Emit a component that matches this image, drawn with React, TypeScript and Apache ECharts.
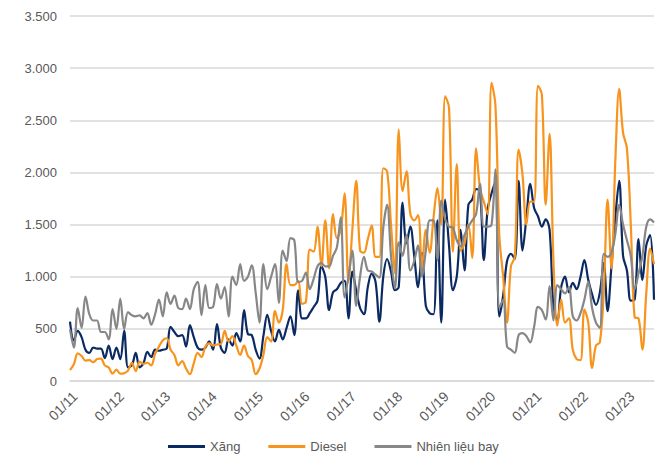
import React, { useEffect, useRef } from "react";
import * as echarts from "echarts";

// Monthly categories from 01/2011 to 08/2023
const years = ["11", "12", "13", "14", "15", "16", "17", "18", "19", "20", "21", "22", "23"];
const monthsInLastYear = 8;

// Xăng (by year)
const xang2011 = [570, 390, 480, 420, 300, 270, 320, 310, 310, 220, 340, 210];
const xang2012 = [320, 210, 480, 130, 150, 270, 130, 170, 280, 230, 300, 290];
const xang2013 = [300, 310, 520, 470, 430, 440, 330, 535, 420, 320, 300, 320];
const xang2014 = [380, 300, 545, 320, 270, 400, 340, 460, 380, 680, 450, 440];
const xang2015 = [300, 215, 430, 635, 480, 380, 490, 400, 510, 620, 440, 870];
const xang2016 = [600, 600, 650, 710, 770, 1100, 1000, 680, 850, 880, 940, 960];
const xang2017 = [600, 1050, 870, 700, 640, 900, 1030, 950, 570, 1000, 1170, 1050];
const xang2018 = [870, 900, 1710, 1320, 1480, 1200, 900, 1230, 720, 650, 640, 1540];
const xang2019 = [560, 1740, 1300, 870, 1000, 1450, 1060, 1690, 1740, 1840, 1820, 1160];
const xang2020 = [1650, 1800, 1910, 620, 820, 1150, 1220, 1170, 1920, 1250, 1560, 1890];
const xang2021 = [1660, 1580, 1480, 1550, 1450, 720, 580, 900, 1000, 850, 940, 880];
const xang2022 = [1000, 1160, 970, 830, 730, 850, 1130, 670, 1100, 1570, 1920, 1200];
const xang2023 = [1060, 770, 780, 1360, 970, 1300, 1400, 780];

// Diesel (by year)
const diesel2011 = [105, 160, 265, 240, 195, 200, 180, 210, 215, 150, 130, 70];
const diesel2012 = [110, 70, 75, 100, 175, 95, 185, 165, 175, 150, 260, 330];
const diesel2013 = [390, 410, 300, 250, 150, 190, 120, 65, 170, 270, 230, 330];
const diesel2014 = [360, 340, 350, 355, 480, 380, 430, 340, 250, 340, 240, 200];
const diesel2015 = [65, 120, 250, 420, 380, 670, 560, 680, 1120, 920, 920, 960];
const diesel2016 = [740, 760, 1260, 1240, 1480, 1100, 1540, 1080, 1600, 1370, 1450, 1800];
const diesel2017 = [950, 1450, 1920, 1250, 1230, 1360, 1490, 1190, 1190, 2040, 2010, 1500];
const diesel2018 = [1030, 2410, 1820, 2010, 1600, 1540, 1590, 1080, 1450, 1230, 1570, 1850];
const diesel2019 = [1500, 2730, 2620, 1240, 2080, 1250, 1320, 1500, 1180, 2230, 1850, 1720];
const diesel2020 = [1600, 2860, 2640, 1400, 1000, 560, 1100, 1190, 2220, 1980, 1500, 1720];
const diesel2021 = [1720, 2830, 2750, 1690, 2370, 1160, 530, 780, 560, 600, 300, 210];
const diesel2022 = [200, 685, 560, 125, 340, 370, 840, 1740, 1080, 2110, 2800, 2380];
const diesel2023 = [2230, 1500, 610, 600, 300, 840, 1270, 1120];

// Nhiên liệu bay (by year)
const jet2011 = [495, 320, 700, 510, 810, 640, 580, 580, 470, 470, 400, 690];
const jet2012 = [500, 790, 500, 660, 630, 620, 630, 600, 650, 540, 640, 780];
const jet2013 = [620, 850, 740, 820, 700, 690, 790, 690, 880, 950, 630, 920];
const jet2014 = [700, 710, 930, 790, 900, 620, 1000, 920, 1120, 960, 1000, 1110];
const jet2015 = [850, 560, 1120, 880, 1000, 1120, 750, 1250, 1150, 1370, 1350, 950];
const jet2016 = [960, 1040, 880, 980, 1100, 1130, 1100, 1100, 1200, 1280, 1570, 800];
const jet2017 = [1000, 1250, 720, 1000, 1190, 1060, 1050, 1020, 990, 1470, 1690, 1200];
const jet2018 = [890, 1330, 1200, 1400, 1060, 1150, 1300, 1000, 1250, 1540, 1540, 1160];
const jet2019 = [1730, 1550, 1480, 1470, 1350, 1290, 1400, 1480, 1540, 1600, 1890, 1480];
const jet2020 = [1480, 1500, 2030, 700, 780, 330, 300, 270, 440, 460, 430, 370];
const jet2021 = [520, 710, 680, 590, 910, 580, 920, 880, 840, 900, 620, 580];
const jet2022 = [650, 780, 950, 700, 560, 510, 1220, 1190, 1230, 1410, 1690, 1500];
const jet2023 = [1350, 1200, 880, 1030, 1200, 1480, 1550, 1520];

const xang = [
  ...xang2011, ...xang2012, ...xang2013, ...xang2014, ...xang2015, ...xang2016, ...xang2017,
  ...xang2018, ...xang2019, ...xang2020, ...xang2021, ...xang2022, ...xang2023,
];
const diesel = [
  ...diesel2011, ...diesel2012, ...diesel2013, ...diesel2014, ...diesel2015, ...diesel2016, ...diesel2017,
  ...diesel2018, ...diesel2019, ...diesel2020, ...diesel2021, ...diesel2022, ...diesel2023,
];
const jet = [
  ...jet2011, ...jet2012, ...jet2013, ...jet2014, ...jet2015, ...jet2016, ...jet2017,
  ...jet2018, ...jet2019, ...jet2020, ...jet2021, ...jet2022, ...jet2023,
];

const seriesNames = ["Xăng", "Diesel", "Nhiên liệu bay"];
const seriesColors = ["#0B2A62", "#F7941D", "#878787"];

function buildCategories(): string[] {
  const out: string[] = [];
  years.forEach((y, yi) => {
    const n = yi === years.length - 1 ? monthsInLastYear : 12;
    for (let m = 1; m <= n; m++) out.push(String(m).padStart(2, "0") + "/" + y);
  });
  return out;
}

const fmt = (v: number) => String(v).replace(/\B(?=(\d{3})+(?!\d))/g, ".");

export default function App() {
  const ref = useRef<HTMLDivElement>(null);
  useEffect(() => {
    if (!ref.current) return;
    const chart = echarts.init(ref.current, undefined, { renderer: "svg" });
    const categories = buildCategories();
    const font = "'Liberation Sans', Arial, sans-serif";
    const data = [xang, diesel, jet];
    chart.setOption({
      animation: false,
      backgroundColor: "#ffffff",
      textStyle: { fontFamily: font },
      grid: { left: 70, right: 12, top: 16, bottom: 93, containLabel: false },
      legend: {
        data: seriesNames,
        left: 163,
        top: 435,
        icon: "rect",
        itemWidth: 37,
        itemHeight: 3,
        itemGap: 28,
        textStyle: { fontSize: 13, color: "#595959", fontFamily: font },
      },
      xAxis: {
        type: "category",
        boundaryGap: false,
        data: categories,
        axisLine: { show: true, lineStyle: { color: "#D9D9D9", width: 1.5 } },
        axisTick: { show: false },
        axisLabel: {
          interval: (i: number) => i % 12 === 0,
          rotate: 45,
          margin: 8,
          verticalAlign: "top",
          fontSize: 14,
          color: "#595959",
          fontFamily: font,
        },
        splitLine: { show: false },
      },
      yAxis: {
        type: "value",
        min: 0,
        max: 3500,
        interval: 500,
        axisLine: { show: false },
        axisTick: { show: false },
        axisLabel: {
          formatter: (v: number) => fmt(v),
          fontSize: 13,
          color: "#595959",
          margin: 13,
          fontFamily: font,
        },
        splitLine: { lineStyle: { color: "#D9D9D9", width: 1.5 } },
      },
      series: seriesNames.map((name, k) => ({
        name,
        type: "line",
        data: data[k],
        smooth: 0.35,
        showSymbol: false,
        symbol: "none",
        lineStyle: { width: 2.2, color: seriesColors[k] },
        itemStyle: { color: seriesColors[k] },
      })),
    });
    return () => chart.dispose();
  }, []);
  return (
    <div
      ref={ref}
      style={{ position: "fixed", left: 0, top: 0, width: 666, height: 474, background: "#fff" }}
    />
  );
}
